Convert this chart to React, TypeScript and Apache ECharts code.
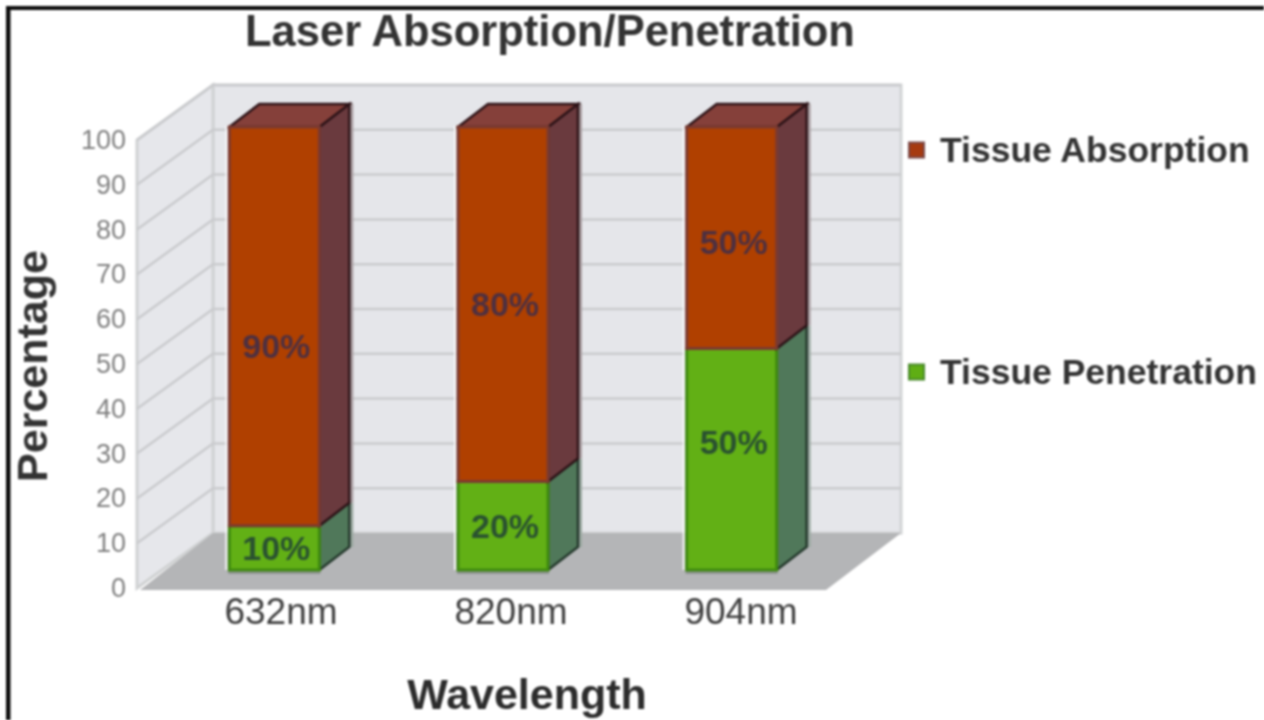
import React, { useEffect, useRef } from "react";
import * as echarts from "echarts";

const categories = ["632nm", "820nm", "904nm"];
const penetration = [10, 20, 50];
const absorption = [90, 80, 50];
const penetrationLabelAt = [5, 10, 29];
const absorptionLabelAt = [50.5, 60, 74];
const yTicks = [0, 10, 20, 30, 40, 50, 60, 70, 80, 90, 100];

const FONT = '"Liberation Sans", Arial, sans-serif';
const WALL = { dx: 76, dy: -55 };
const BAR = { width: 90, dx: 30, dy: -23 };

const wallItem = (params: any, api: any) => {
  const v = api.value(0);
  const [x0, y] = api.coord([0, v]);
  const [x1] = api.coord([1, v]);
  const [, y100] = api.coord([0, 100]);
  const [, y00] = api.coord([0, 0]);
  const bx0 = x0 + WALL.dx;
  const bx1 = x1 + WALL.dx;
  const children: any[] = [];
  if (params.dataIndex === 0) {
    children.push(
      {
        type: "polygon",
        shape: { points: [[bx0, y100 + WALL.dy], [bx1, y100 + WALL.dy], [bx1, y00 + WALL.dy], [bx0, y00 + WALL.dy]] },
        style: { fill: "#e5e6ea", stroke: "#d2d4d5", lineWidth: 3 },
      },
      {
        type: "polygon",
        shape: { points: [[x0, y100], [bx0, y100 + WALL.dy], [bx0, y00 + WALL.dy], [x0, y00]] },
        style: { fill: "#e6e7eb", stroke: "#d0d2d3", lineWidth: 3 },
      }
    );
  }
  if (v > 0) {
    children.push({
      type: "polyline",
      shape: { points: [[x0, y], [bx0, y + WALL.dy], [bx1, y + WALL.dy]] },
      style: { fill: "none", stroke: "#cacbce", lineWidth: 2.5 },
    });
  }
  return { type: "group", children };
};

const floorItem = (_params: any, api: any) => {
  const [x0, y] = api.coord([0, 0]);
  const [x1] = api.coord([1, 0]);
  return {
    type: "polygon",
    shape: { points: [[x0 + 3, y + 2], [x1 + 1, y + 2], [x1 + WALL.dx, y + WALL.dy], [x0 + WALL.dx, y + WALL.dy]] },
    style: { fill: "#b4b5b7" },
  };
};

const boxItem = (
  starts: number[],
  values: number[],
  labelAt: number[],
  colors: { front: string; edge: string; side: string; top: string; label: string; dark: string; halo: string },
  isTopSegment: boolean
) => (params: any, api: any) => {
  const i = params.dataIndex;
  const [c, yLow] = api.coord([i, starts[i]]);
  const [, yHigh] = api.coord([i, starts[i] + values[i]]);
  const [, yLabel] = api.coord([i, labelAt[i]]);
  const l = c - BAR.width / 2;
  const r = c + BAR.width / 2;
  const children: any[] = [
    {
      type: "line",
      shape: { x1: r + BAR.dx + 2.5, y1: yHigh + BAR.dy, x2: r + BAR.dx + 2.5, y2: yLow + BAR.dy },
      style: { stroke: colors.halo, lineWidth: 3 },
    },
    {
      type: "polygon",
      shape: { points: [[r, yHigh], [r + BAR.dx, yHigh + BAR.dy], [r + BAR.dx, yLow + BAR.dy], [r, yLow]] },
      style: { fill: colors.side, stroke: colors.dark, lineWidth: 2.5 },
    },
  ];
  if (isTopSegment) {
    children.push({
      type: "polygon",
      shape: { points: [[l, yHigh], [l + BAR.dx, yHigh + BAR.dy], [r + BAR.dx, yHigh + BAR.dy], [r, yHigh]] },
      style: { fill: colors.top, stroke: colors.dark, lineWidth: 2.5 },
    });
  } else {
    children.push({
      type: "line",
      shape: { x1: l - 1, y1: yLow + 2.5, x2: r + 1, y2: yLow + 2.5 },
      style: { stroke: "#8f9392", lineWidth: 3 },
    });
  }
  children.push(
    {
      type: "line",
      shape: { x1: l - 3, y1: yHigh - 1, x2: l - 3, y2: yLow },
      style: { stroke: "#f7f7f9", lineWidth: 2 },
    },
    {
      type: "rect",
      shape: { x: l, y: yHigh, width: BAR.width, height: yLow - yHigh },
      style: { fill: colors.front, stroke: colors.edge, lineWidth: 3 },
    },
    {
      type: "text",
      x: c + 2,
      y: yLabel,
      style: {
        text: `${values[i]}%`,
        fill: colors.label,
        font: `bold 34px ${FONT}`,
        align: "center",
        verticalAlign: "middle",
      },
    }
  );
  return { type: "group", children };
};

export default function App() {
  const ref = useRef<HTMLDivElement>(null);
  useEffect(() => {
    const chart = echarts.init(ref.current!, undefined, { renderer: "svg" });
    const catIdx = categories.map((_, i) => i);
    chart.setOption({
      animation: false,
      backgroundColor: "#ffffff",
      title: {
        text: "Laser Absorption/Penetration",
        left: 545,
        top: 4,
        textAlign: "center",
        textStyle: { fontFamily: FONT, fontWeight: "bold", fontSize: 43.5, color: "#333333" },
      },
      legend: {
        orient: "vertical",
        left: 903,
        top: 127,
        icon: "rect",
        itemWidth: 15,
        itemHeight: 15,
        itemGap: 186,
        data: ["Tissue Absorption", "Tissue Penetration"],
        selectedMode: false,
        textStyle: { fontFamily: FONT, fontWeight: "bold", fontSize: 35.5, color: "#333333", padding: [0, 0, 0, 11] },
      },
      grid: [
        { left: 137, width: 688, top: 140, height: 448 },
        { left: 160, width: 686, top: 127, height: 443 },
        { left: 166, width: 690, top: 127, height: 443 },
      ],
      xAxis: [
        { type: "value", gridIndex: 0, min: 0, max: 1, show: false },
        { type: "category", gridIndex: 1, data: categories, show: false },
        {
          type: "category",
          gridIndex: 2,
          data: categories,
          axisLine: { show: false },
          axisTick: { show: false },
          axisLabel: { margin: 24, fontFamily: FONT, fontSize: 37, color: "#404040", interval: 0 },
          name: "Wavelength",
          nameLocation: "middle",
          nameGap: 103.5,
          nameTextStyle: { fontFamily: FONT, fontWeight: "bold", fontSize: 43, color: "#2c2c2c", padding: [0, 0, 0, 32] },
        },
      ],
      yAxis: [
        {
          type: "value",
          gridIndex: 0,
          min: 0,
          max: 100,
          interval: 10,
          axisLine: { show: false },
          axisTick: { show: false },
          splitLine: { show: false },
          axisLabel: { margin: 11, fontFamily: FONT, fontSize: 27, color: "#808080" },
          name: "Percentage",
          nameLocation: "middle",
          nameGap: 84,
          nameRotate: 90,
          nameTextStyle: { fontFamily: FONT, fontWeight: "bold", fontSize: 43, color: "#333333", padding: [0, 4, 0, 0] },
        },
        { type: "value", gridIndex: 1, min: 0, max: 100, show: false, splitLine: { show: false } },
        { type: "value", gridIndex: 2, min: 0, max: 100, show: false, splitLine: { show: false } },
      ],
      series: [
        {
          type: "custom",
          name: "wall",
          xAxisIndex: 0,
          yAxisIndex: 0,
          clip: false,
          silent: true,
          renderItem: wallItem,
          encode: { y: 0 },
          data: yTicks,
        },
        {
          type: "custom",
          name: "floor",
          xAxisIndex: 0,
          yAxisIndex: 0,
          clip: false,
          silent: true,
          renderItem: floorItem,
          encode: { y: 0 },
          data: [0],
        },
        {
          type: "custom",
          name: "Tissue Penetration",
          xAxisIndex: 1,
          yAxisIndex: 1,
          clip: false,
          silent: true,
          itemStyle: { color: "#5fae14", borderColor: "#4a8a2c", borderWidth: 2 },
          renderItem: boxItem(
            catIdx.map(() => 0),
            penetration,
            penetrationLabelAt,
            { front: "#62b015", edge: "#3f8a10", side: "#50785a", top: "#50785a", label: "#2a5230", dark: "#24382c", halo: "#9aa8a0" },
            false
          ),
          encode: { x: 0, y: 1 },
          data: catIdx.map((i) => [i, penetration[i]]),
        },
        {
          type: "custom",
          name: "Tissue Absorption",
          xAxisIndex: 1,
          yAxisIndex: 1,
          clip: false,
          silent: true,
          itemStyle: { color: "#a63a10", borderColor: "#7a4a4a", borderWidth: 2 },
          renderItem: boxItem(
            penetration,
            absorption,
            absorptionLabelAt,
            { front: "#b04000", edge: "#7c3a30", side: "#6a3a3e", top: "#85403a", label: "#4e3040", dark: "#2e1418", halo: "#a89da0" },
            true
          ),
          encode: { x: 0, y: 1 },
          data: catIdx.map((i) => [i, penetration[i] + absorption[i]]),
        },
      ],
      graphic: [
        { type: "rect", shape: { x: 6, y: 6, width: 1258, height: 4 }, style: { fill: "#0c0c0c" } },
        { type: "rect", shape: { x: 6, y: 6, width: 4.5, height: 714 }, style: { fill: "#0c0c0c" } },
      ],
    });
    return () => chart.dispose();
  }, []);
  return (
    <div
      ref={ref}
      style={{ position: "fixed", left: 0, top: 0, width: 1264, height: 720, filter: "blur(0.9px)" }}
    />
  );
}
